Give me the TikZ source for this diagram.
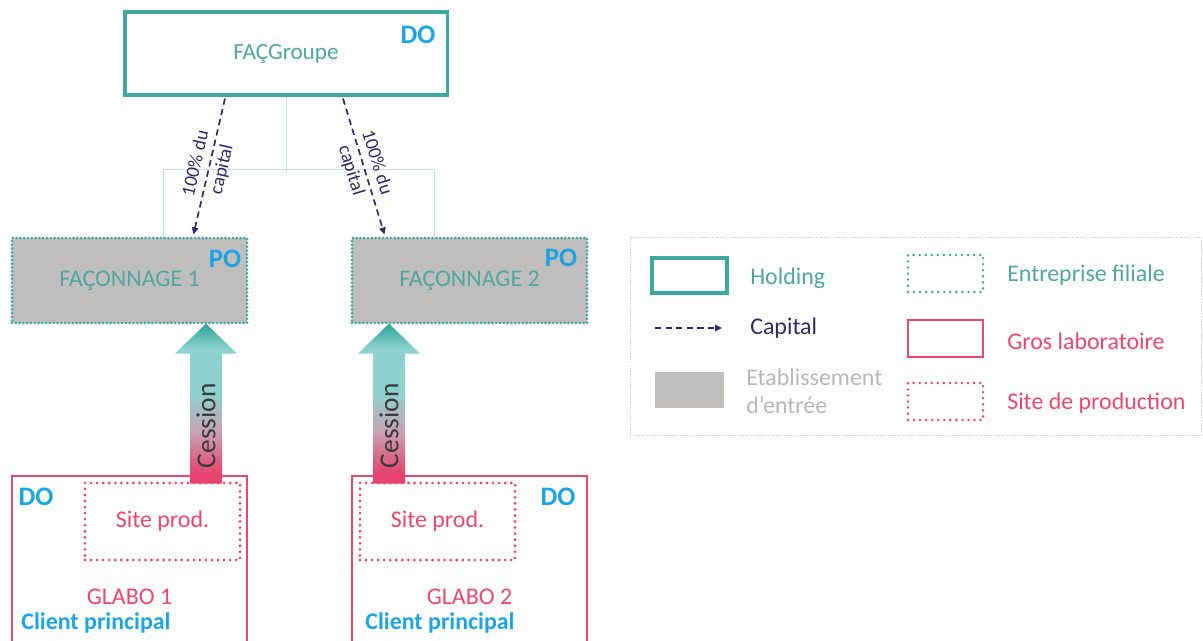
\documentclass[tikz,border=0pt]{standalone}
\usepackage{fontspec}
\setmainfont{Carlito}
\usepackage{tikz}
\usetikzlibrary{arrows.meta,
                calc,
                positioning}

\definecolor{holdteal}{HTML}{3FA8A1}
\definecolor{txteal}{HTML}{4FA79F}
\definecolor{linteal}{HTML}{C6E3E0}
\definecolor{dblue}{HTML}{1DA4E2}
\definecolor{gpink}{HTML}{E8486F}
\definecolor{navy}{HTML}{2E2A66}
\definecolor{boxgray}{HTML}{BFBEBD}
\definecolor{lgray}{HTML}{B7B7B7}
\definecolor{cesspink}{HTML}{E5426E}
\definecolor{cessmix}{HTML}{C8A0B2}
\definecolor{cessteal}{HTML}{8ED2CF}
\definecolor{cesstip}{HTML}{2FA497}
\definecolor{cessink}{HTML}{3A3A3A}

\pgfdeclareverticalshading{cessionshade}{100bp}{color(0bp)=(cesspink); color(28bp)=(cesspink);
  color(41bp)=(cessmix); color(53bp)=(cessteal); color(67bp)=(cessteal); color(75bp)=(cesstip);
  color(100bp)=(cesstip)}

\tikzset{
  box/.style={rectangle, inner sep=0pt},
  holdbox/.style={box, draw=holdteal, line width=2.2pt, text=txteal,
    font=\fontsize{16.5}{20}\selectfont},
  filbox/.style={box, fill=boxgray, draw=holdteal, line width=2.1pt, line cap=round,
    dash pattern=on 0pt off 2.7pt, text=txteal, font=\fontsize{17}{20}\selectfont},
  labbox/.style={box, draw=gpink, line width=1.9pt},
  sitebox/.style={box, draw=gpink, line width=2.2pt, line cap=round,
    dash pattern=on 0pt off 4.3pt, text=gpink, font=\fontsize{17}{20}\selectfont},
  filkey/.style={box, draw=holdteal, line width=2pt, line cap=round, dash pattern=on 0pt off 4.3pt},
  sitekey/.style={box, draw=gpink, line width=2pt, line cap=round, dash pattern=on 0pt off 4.3pt},
  legbox/.style={box, draw=gray!35, line width=0.5pt, dash pattern=on 1pt off 1pt},
  dotag/.style={text=dblue, font=\fontsize{19}{22}\selectfont\bfseries, inner sep=0pt},
  labname/.style={text=gpink, font=\fontsize{17}{20}\selectfont, inner sep=0pt},
  client/.style={text=dblue, font=\fontsize{17}{20}\selectfont\bfseries, inner sep=0pt},
  capital/.style={draw=navy, line width=1.2pt, dash pattern=on 4.5pt off 3pt,
    -{Triangle[length=5pt,width=4.5pt]}},
  capnote/.style={text=navy, align=center, inner sep=0pt,
    font=\fontsize{13.5}{19}\selectfont},
  orgline/.style={draw=linteal, line width=0.7pt},
  cessnote/.style={text=cessink, inner sep=0pt, font=\fontsize{19.5}{22}\selectfont},
  legtext/.style={anchor=west, inner sep=0pt, font=\fontsize{17}{20}\selectfont}
}

\begin{document}
\begin{tikzpicture}[x=0.025cm, y=-0.025cm]
\useasboundingbox (0,0) rectangle (1203,640);

% holding
\node[holdbox, minimum width=8.05cm, minimum height=2.075cm] (groupe) at (286,53.5) {FAÇGroupe};
\node[dotag] (groupe-do) at (418,35) {DO};

% filiales
\foreach \n/\x in {1/129.5,2/469.5}
  \node[filbox, minimum width=5.875cm, minimum height=2.125cm] (fac\n) at (\x,280.5) {FAÇONNAGE \n};
\node[dotag] (fac1-po) at (225,259) {PO};
\node[dotag] (fac2-po) at (561,258) {PO};

% org lines
\draw[orgline] (groupe.south) -- ++(0,76) coordinate (bus);
\draw[orgline] ($(fac1.north)+(34,0)$) -- ++(0,-67) -| ($(fac2.north)+(-35,0)$);

% capital
\draw[capital] ($(groupe.south)+(-61,2)$) -- node[capnote, sloped] (cap1) {100\% du\\capital}
  ($(fac1.north)+(64,-2)$);
\draw[capital] ($(groupe.south)+(57,2)$) -- node[capnote, sloped] (cap2) {100\% du\\capital}
  ($(fac2.north)+(-85,-2)$);

% gros laboratoires
\foreach \n/\x in {1/129.5,2/469.5}{
  \node[labbox, minimum width=5.875cm, minimum height=4.6cm] (glabo\n) at (\x,568) {};
  \node[labname] (gname\n) at (\x,597) {GLABO \n};
}
\node[sitebox, minimum width=3.875cm, minimum height=1.925cm] (site1) at (162.5,521.5) {Site prod.};
\node[sitebox, minimum width=3.875cm, minimum height=1.925cm] (site2) at (437.5,521.5) {Site prod.};
\node[dotag] (glabo1-do) at (36,497) {DO};
\node[dotag] (glabo2-do) at (558,497) {DO};
\node[client] (client1) at (96,623) {Client principal};
\node[client] (client2) at (440,623) {Client principal};

% cession
\foreach \n/\dx in {1/76.5,2/-80.5}{
  \coordinate (ces\n) at ($(glabo\n.north)+(\dx,9)$);
  \shade[shading=cessionshade] (ces\n) ++(-16,0) -- ++(0,-130) -- ++(-15,0) -- ++(31,-30)
    -- ++(31,30) -- ++(-15,0) -- ++(0,130) -- cycle;
  \node[cessnote, rotate=90] (cestext\n) at ($(ces\n)+(0,-58)$) {Cession};
}

% legende
\node[legbox, minimum width=14.275cm, minimum height=4.95cm] (legend) at (915.5,336) {};
\node[holdbox, minimum width=1.875cm, minimum height=0.875cm] (key-hold) at (689.5,275.5) {};
\node[legtext, text=txteal] (txt-hold) at (750,278) {Holding};
\coordinate (key-cap-a) at (655,328);
\coordinate (key-cap-b) at (722,328);
\draw[capital] (key-cap-a) -- (key-cap-b);
\node[legtext, text=navy] (txt-cap) at (750,328) {Capital};
\node[box, fill=boxgray, minimum width=1.725cm, minimum height=0.9cm] (key-etab) at (689.5,390) {};
\node[legtext, text=lgray, align=left] (txt-etab) at (746,391) {Etablissement\\d’entrée};
\node[filkey, minimum width=1.875cm, minimum height=0.925cm] (key-fil) at (945.5,273.5) {};
\node[legtext, text=txteal] (txt-fil) at (1007,275) {Entreprise filiale};
\node[labbox, minimum width=1.875cm, minimum height=0.925cm] (key-glabo) at (945.5,338.5) {};
\node[legtext, text=gpink] (txt-glabo) at (1007,341) {Gros laboratoire};
\node[sitekey, minimum width=1.875cm, minimum height=0.925cm] (key-site) at (945.5,401.5) {};
\node[legtext, text=gpink] (txt-site) at (1007,403) {Site de production};
\end{tikzpicture}
\end{document}
